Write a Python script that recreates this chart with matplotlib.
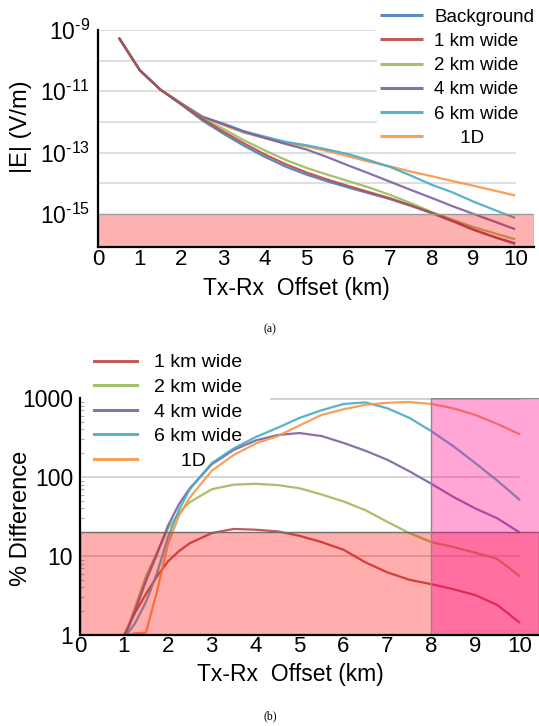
import numpy as np
import matplotlib
matplotlib.use('Agg')
import matplotlib.pyplot as plt
from matplotlib.ticker import FixedLocator, FixedFormatter, NullLocator, LogLocator

plt.rcParams['font.family'] = ['Liberation Sans', 'DejaVu Sans']
plt.rcParams['mathtext.fontset'] = 'custom'
plt.rcParams['mathtext.rm'] = 'Liberation Sans'
plt.rcParams['mathtext.it'] = 'Liberation Sans:italic'
plt.rcParams['mathtext.default'] = 'regular'

# ---------------- data: panel (a) |E| (log10 V/m) ----------------
offset_a = [0.5, 1.0, 1.5, 2.0, 2.5, 3.0, 3.5, 4.0, 4.5, 5.0,
            5.5, 6.0, 6.5, 7.0, 7.5, 8.0, 8.5, 9.0, 9.5, 10.0]
loge_background = [-9.25, -10.31, -10.95, -11.44, -11.95, -12.38, -12.78, -13.14, -13.46, -13.72,
                   -13.94, -14.14, -14.33, -14.52, -14.74, -14.98, -15.24, -15.52, -15.76, -15.98]
loge_1km = [-9.25, -10.31, -10.95, -11.42, -11.90, -12.31, -12.70, -13.06, -13.38, -13.65,
            -13.88, -14.09, -14.29, -14.49, -14.72, -14.96, -15.23, -15.51, -15.75, -15.96]
loge_2km = [-9.25, -10.31, -10.95, -11.41, -11.88, -12.22, -12.60, -12.93, -13.24, -13.50,
            -13.72, -13.93, -14.14, -14.38, -14.65, -14.94, -15.19, -15.43, -15.63, -15.83]
loge_4km = [-9.25, -10.31, -10.95, -11.40, -11.83, -12.07, -12.32, -12.52, -12.72, -12.90,
            -13.15, -13.42, -13.68, -13.95, -14.22, -14.48, -14.75, -15.00, -15.25, -15.50]
loge_6km = [-9.25, -10.31, -10.95, -11.40, -11.83, -12.05, -12.30, -12.48, -12.65, -12.76,
            -12.90, -13.05, -13.25, -13.47, -13.75, -14.05, -14.30, -14.60, -14.87, -15.13]
loge_1d = [-9.25, -10.31, -10.95, -11.40, -11.83, -12.10, -12.35, -12.53, -12.70, -12.80,
           -12.95, -13.12, -13.30, -13.45, -13.62, -13.77, -13.93, -14.08, -14.24, -14.40]

labels_a = ['Background', '1 km wide', '2 km wide', '4 km wide', '6 km wide', '     1D']
yticks_a_exp = [-9, -11, -13, -15]
grid_a_exp = [-9, -10, -11, -12, -13, -14]

# ---------------- data: panel (b) % difference ----------------
offset_b = [1.0, 1.25, 1.5, 1.75, 2.0, 2.25, 2.5, 3.0, 3.5, 4.0, 4.5, 5.0,
            5.5, 6.0, 6.5, 7.0, 7.5, 8.0, 8.5, 9.0, 9.5, 10.0]
pct_1km = [1.0, 1.9, 3.3, 5.5, 8.5, 11.5, 14.5, 19.5, 22.0, 21.5, 20.5, 18.0,
           15.0, 12.0, 8.3, 6.2, 5.0, 4.4, 3.8, 3.2, 2.4, 1.45]
pct_2km = [0.9, 2.2, 5.5, 11.0, 22.0, 35.0, 48.0, 70.0, 80.0, 82.0, 79.0, 72.0,
           60.0, 49.0, 38.0, 27.0, 19.5, 15.0, 13.0, 11.0, 9.2, 5.6]
pct_4km = [0.9, 2.0, 4.8, 10.5, 24.0, 45.0, 72.0, 145.0, 220.0, 290.0, 340.0, 360.0,
           330.0, 270.0, 215.0, 165.0, 118.0, 82.0, 56.0, 40.0, 30.0, 20.0]
pct_6km = [0.9, 1.4, 2.6, 6.0, 17.0, 38.0, 70.0, 150.0, 230.0, 320.0, 420.0, 560.0,
           700.0, 840.0, 880.0, 740.0, 560.0, 380.0, 245.0, 150.0, 90.0, 52.0]
pct_1d = [0.95, 1.05, 1.07, 3.5, 14.0, 32.0, 55.0, 120.0, 190.0, 265.0, 330.0, 450.0,
          610.0, 720.0, 820.0, 870.0, 890.0, 840.0, 740.0, 610.0, 470.0, 350.0]
labels_b = ['1 km wide', '2 km wide', '4 km wide', '6 km wide', '     1D']

colors_a = ['#4a7ebb', '#b84a47', '#9bbb59', '#7d60a0', '#46aac5', '#f79646']
colors_b = colors_a[1:]

xticks = list(range(0, 11))

W, H = 539, 726
fig = plt.figure(figsize=(W / 100, H / 100), dpi=100)

def fx(px):
    return px / W

def fy(py):
    return 1 - py / H

HY = '\u2010'

# ================= panel (a) =================
axA = fig.add_axes([fx(98), fy(247), (534 - 98) / W, (247 - 30) / H])
axA.set_yscale('log')
xmax = 10.45
axA.set_xlim(0, xmax)
axA.set_ylim(10 ** -16.08, 1e-9)

x10a = 10 / xmax
for e in grid_a_exp:
    axA.axhline(10.0 ** e, xmin=0, xmax=(0.638 if e >= -12 else x10a),
                color='#d9d9d9', lw=1.2, zorder=1)

series_a = [loge_background, loge_1km, loge_2km, loge_4km, loge_6km, loge_1d]
order_a = [5, 4, 3, 2, 0, 1]
handles = {}
for i in order_a:
    h, = axA.plot(offset_a, 10.0 ** np.array(series_a[i]), color=colors_a[i], lw=1.6,
                  alpha=0.9, zorder=2, solid_capstyle='butt')
    handles[i] = h

axA.axhspan(1e-17, 1e-15, facecolor=(1, 0, 0, 0.30), edgecolor='#9a9a9a', lw=1.0, zorder=3)

axA.yaxis.set_major_locator(FixedLocator([10.0 ** e for e in yticks_a_exp]))
axA.yaxis.set_major_formatter(FixedFormatter([r'$10^{%s%d}$' % (HY, -e) for e in yticks_a_exp]))
axA.yaxis.set_minor_locator(NullLocator())
axA.set_xticks(xticks)
axA.set_xticklabels([str(t) for t in xticks])
axA.tick_params(axis='y', length=0, pad=6, labelsize=16.5)
axA.tick_params(axis='x', length=0, pad=1.5, labelsize=16)
for s in ['top', 'right']:
    axA.spines[s].set_visible(False)
for s in ['left', 'bottom']:
    axA.spines[s].set_linewidth(1.6)
    axA.spines[s].set_color('black')
    axA.spines[s].set_zorder(5)

fig.text(fx(21), fy(127), '|E| (V/m)', rotation=90, ha='center', va='center', fontsize=17)
fig.text(fx(296), fy(288), 'Tx-Rx  Offset (km)', ha='center', va='center', fontsize=16.5)

legA = fig.legend([handles[i] for i in range(6)], labels_a, loc='upper left',
                  bbox_to_anchor=(fx(374), fy(3)), frameon=False, fontsize=13.5,
                  handlelength=2.3, handletextpad=0.6, labelspacing=0.38,
                  borderpad=0.3, borderaxespad=0)
for ln in legA.get_lines():
    ln.set_linewidth(2.2)

fig.text(fx(270), fy(329), '(a)', ha='center', va='center', fontsize=8.5,
         family=['Liberation Serif', 'DejaVu Serif'])

# ================= panel (b) =================
axB = fig.add_axes([fx(80), fy(635), (539 - 80) / W, (635 - 398) / H])
axB.set_yscale('log')
axB.set_xlim(0, xmax)
axB.set_ylim(1, 1000)

x10b = 10 / xmax
axB.axhline(10, xmin=0, xmax=x10b, color='#cfcfcf', lw=1.2, zorder=1)
axB.axhline(100, xmin=0, xmax=x10b, color='#cfcfcf', lw=1.2, zorder=1)
axB.axhline(1000, xmin=0.416, xmax=x10b, color='#cfcfcf', lw=2.0, zorder=1)

series_b = [pct_1km, pct_2km, pct_4km, pct_6km, pct_1d]
hb = []
for i, ser in enumerate(series_b):
    h, = axB.plot(offset_b, ser, color=colors_b[i], lw=1.6, alpha=0.9, zorder=2)
    hb.append(h)

axB.axhspan(0.5, 20, facecolor=(1, 0, 0, 0.32), edgecolor='#6e6e6e', lw=1.0, zorder=3)
axB.axvspan(8, 11, facecolor=(1, 0, 0.55, 0.35), edgecolor='#8a8a8a', lw=1.0, zorder=3)

axB.yaxis.set_major_locator(FixedLocator([1, 10, 100, 1000]))
axB.yaxis.set_major_formatter(FixedFormatter(['1', '10', '100', '1000']))
axB.yaxis.set_minor_locator(LogLocator(base=10, subs=np.arange(2, 10)))
axB.yaxis.set_minor_formatter(FixedFormatter([]))
axB.set_xticks(xticks)
axB.set_xticklabels([str(t) for t in xticks])
axB.tick_params(axis='y', which='major', length=0, pad=5, labelsize=16.5)
axB.tick_params(axis='y', which='minor', length=3, width=0.8, direction='in', color='#b0b0b0')
axB.tick_params(axis='x', length=0, pad=1, labelsize=16)
for s in ['top', 'right']:
    axB.spines[s].set_visible(False)
for s in ['left', 'bottom']:
    axB.spines[s].set_linewidth(1.6)
    axB.spines[s].set_color('black')
    axB.spines[s].set_zorder(5)

fig.text(fx(21), fy(518), '% Difference', rotation=90, ha='center', va='center', fontsize=17)
fig.text(fx(290), fy(674), 'Tx-Rx  Offset (km)', ha='center', va='center', fontsize=16.5)

legB = fig.legend(hb, labels_b, loc='upper left',
                  bbox_to_anchor=(fx(88), fy(348)), frameon=False, fontsize=14,
                  handlelength=2.2, handletextpad=0.9, labelspacing=0.36,
                  borderpad=0.3, borderaxespad=0)
for ln in legB.get_lines():
    ln.set_linewidth(2.2)

fig.text(fx(270), fy(716), '(b)', ha='center', va='center', fontsize=8.5,
         family=['Liberation Serif', 'DejaVu Serif'])

fig.savefig('out.png', dpi=100)
